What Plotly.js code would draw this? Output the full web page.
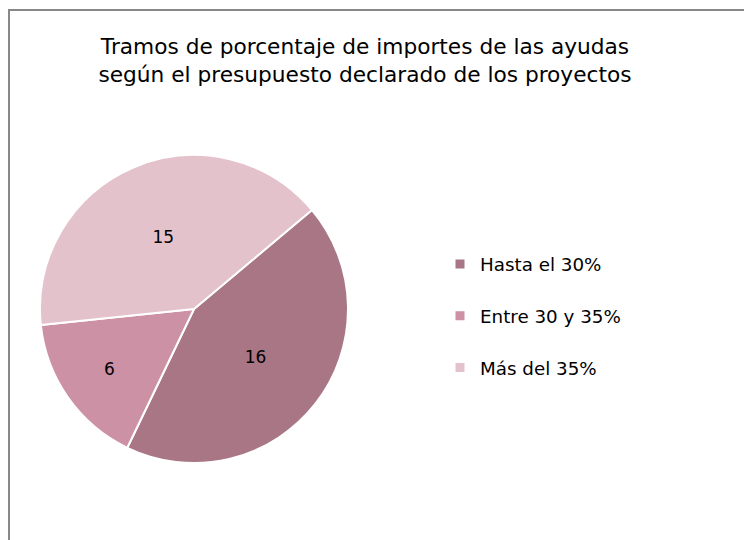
<!DOCTYPE html>
<html>
<head>
<meta charset="utf-8">
<script src="https://cdn.plot.ly/plotly-3.0.1.min.js"></script>
<style>html,body{margin:0;padding:0;background:#fff;}#chart{width:744px;height:540px;}</style>
</head>
<body>
<div id="chart"></div>
<script>
const categories = ["Hasta el 30%", "Entre 30 y 35%", "Más del 35%"];
const values = [16, 6, 15];
const colors = ["#A97686", "#CD91A6", "#E3C2CC"];
const titleText = "Tramos de porcentaje de importes de las ayudas<br>según el presupuesto declarado de los proyectos";

const font = "DejaVu Sans, Verdana, sans-serif";

const pie = {
  type: "pie",
  labels: categories,
  values: values,
  sort: false,
  direction: "clockwise",
  rotation: 50,
  marker: {colors: colors, line: {color: "#ffffff", width: 2}},
  textinfo: "value",
  textposition: "inside",
  insidetextorientation: "horizontal",
  textfont: {family: font, size: 17, color: "#000000"},
  domain: {x: [40/744, 348/744], y: [77/540, 385/540]},
  showlegend: false,
  hoverinfo: "label+value"
};

const legendTraces = categories.map((c, i) => ({
  type: "scatter",
  mode: "markers",
  x: [null], y: [null],
  name: c,
  legendgroup: "g" + i,
  marker: {symbol: "square", size: 9, color: colors[i]},
  showlegend: true,
  hoverinfo: "skip"
}));

const layout = {
  width: 744, height: 540,
  margin: {l: 0, r: 0, t: 0, b: 0},
  paper_bgcolor: "#ffffff",
  plot_bgcolor: "rgba(0,0,0,0)",
  font: {family: font, color: "#000000"},
  title: {
    text: titleText,
    font: {family: font, size: 21.7, color: "#000000"},
    x: 365/744, xanchor: "center",
    y: 1 - 54/540, yanchor: "top", yref: "container"
  },
  xaxis: {visible: false, range: [0, 1]},
  yaxis: {visible: false, range: [0, 1]},
  legend: {
    x: 440/744, xanchor: "left",
    y: 224/540, yanchor: "middle",
    font: {family: font, size: 18.3, color: "#000000"},
    tracegroupgap: 25,
    bgcolor: "rgba(0,0,0,0)"
  },
  shapes: [{
    type: "rect", xref: "paper", yref: "paper",
    x0: 9/744, x1: 1.02, y0: -0.02, y1: 1 - 10/540,
    line: {color: "#888888", width: 2},
    fillcolor: "rgba(0,0,0,0)"
  }]
};

Plotly.newPlot("chart", [pie].concat(legendTraces), layout, {displayModeBar: false, staticPlot: true});
</script>
</body>
</html>
